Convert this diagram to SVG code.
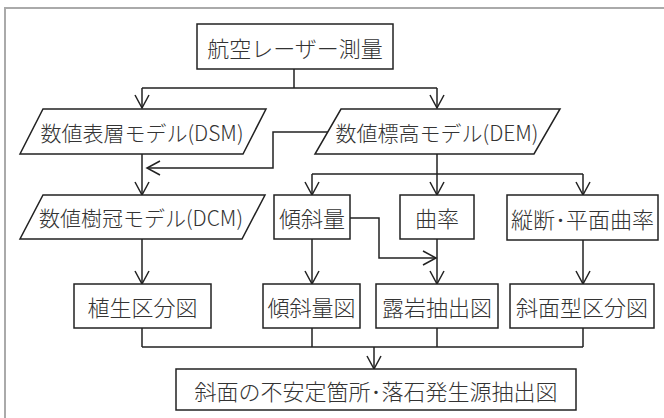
<svg xmlns="http://www.w3.org/2000/svg" width="664" height="418" viewBox="0 0 664 418">
<defs>
<style>
.n{fill:#fff;stroke:#222;stroke-width:1.5}
.t{font-family:"Noto Sans CJK JP","Noto Sans",sans-serif;font-size:21px;font-weight:300;fill:#333;text-anchor:middle;dominant-baseline:central}
.c{fill:none;stroke:#222;stroke-width:1.5}
</style>
<marker id="a" viewBox="-14 -8 16 16" refX="0" refY="0" markerWidth="16" markerHeight="16" markerUnits="userSpaceOnUse" orient="auto">
<path d="M-13,-7 L0,0 L-13,7" fill="none" stroke="#222" stroke-width="1.5"/>
</marker>
</defs>
<rect x="0" y="0" width="664" height="418" fill="#fff"/>
<rect x="5" y="8" width="700" height="500" fill="none" stroke="#aaa" stroke-width="2"/>
<g id="connectors" class="c">
<path d="M294,69 V88 M142,88 H437"/>
<path d="M142,88 V108" marker-end="url(#a)"/>
<path d="M437,88 V108" marker-end="url(#a)"/>
<path d="M142,154 V195" marker-end="url(#a)"/>
<path d="M328,132 H273 V168 H147" marker-end="url(#a)"/>
<path d="M437,154 V174 M312,174 H583"/>
<path d="M312,174 V195" marker-end="url(#a)"/>
<path d="M437,174 V195" marker-end="url(#a)"/>
<path d="M583,174 V195" marker-end="url(#a)"/>
<path d="M142,239 V284" marker-end="url(#a)"/>
<path d="M312,239 V284" marker-end="url(#a)"/>
<path d="M350,218 H379 V258 H436" marker-end="url(#a)"/>
<path d="M437,239 V284" marker-end="url(#a)"/>
<path d="M583,240 V284" marker-end="url(#a)"/>
<path d="M142,328 V347 M312,328 V347 M437,328 V347 M583,328 V347 M142,347 H583"/>
<path d="M374,347 V369" marker-end="url(#a)"/>
</g>
<g id="laser"><rect class="n" x="197" y="24" width="196" height="45"/><text class="t" x="295" y="46.5" style="font-size:22px">航空レーザー測量</text></g>
<g id="dsm"><polygon class="n" points="43,109 266,109 243,154 20,154"/><text class="t" x="142" y="131.5">数値表層モデル(DSM)</text></g>
<g id="dem"><polygon class="n" points="341,109 560,109 534,154 315,154"/><text class="t" x="437" y="131.5">数値標高モデル(DEM)</text></g>
<g id="dcm"><polygon class="n" points="43,195 265,195 242,239 20,239"/><text class="t" x="141" y="217">数値樹冠モデル(DCM)</text></g>
<g id="slope"><rect class="n" x="274" y="195" width="76" height="44"/><text class="t" x="312" y="217" style="font-size:22px">傾斜量</text></g>
<g id="curv"><rect class="n" x="400" y="195" width="74" height="44"/><text class="t" x="437" y="217" style="font-size:22px">曲率</text></g>
<g id="pcurv"><rect class="n" x="507" y="195" width="151" height="45"/><text class="t" x="582.5" y="217.5" style="font-size:22px">縦断･平面曲率</text></g>
<g id="veg"><rect class="n" x="74" y="284" width="137" height="44"/><text class="t" x="142.5" y="306" style="font-size:22px">植生区分図</text></g>
<g id="slopemap"><rect class="n" x="263" y="284" width="97" height="44"/><text class="t" x="311.5" y="306" style="font-size:22px">傾斜量図</text></g>
<g id="rock"><rect class="n" x="376" y="284" width="122" height="44"/><text class="t" x="437" y="306" style="font-size:22px">露岩抽出図</text></g>
<g id="shape"><rect class="n" x="510" y="284" width="144" height="44"/><text class="t" x="582" y="306" style="font-size:22px">斜面型区分図</text></g>
<g id="result"><rect class="n" x="176" y="369" width="400" height="41"/><text class="t" x="376" y="389.5" style="font-size:22px">斜面の不安定箇所･落石発生源抽出図</text></g>
</svg>
